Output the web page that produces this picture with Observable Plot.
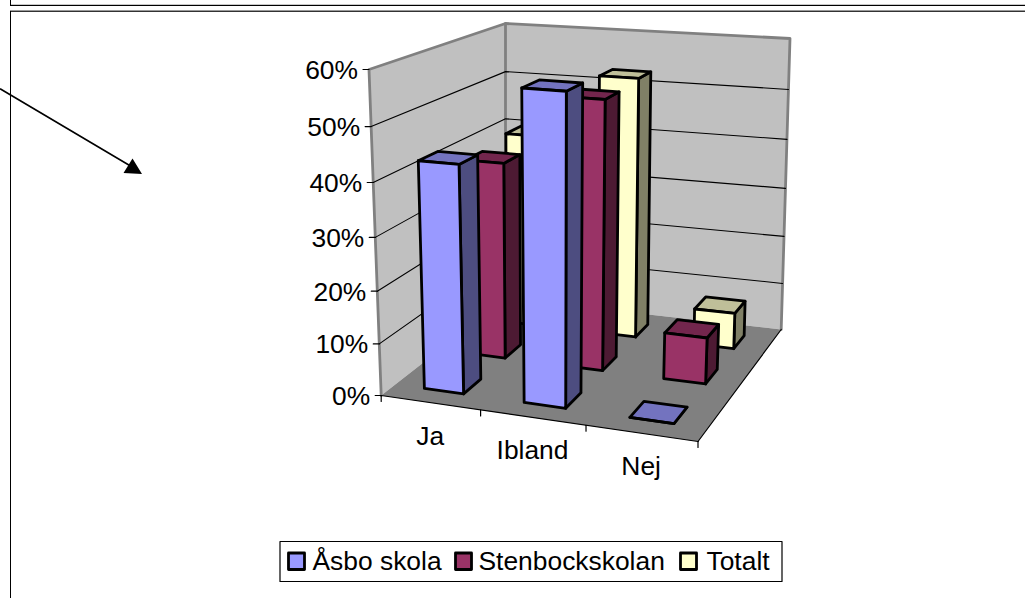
<!DOCTYPE html>
<html>
<head>
<meta charset="utf-8">
<script src="https://cdn.jsdelivr.net/npm/d3@7"></script>
<script src="https://cdn.jsdelivr.net/npm/@observablehq/plot@0.6"></script>
<style>html,body{margin:0;padding:0;background:#fff}svg{display:block}</style>
</head>
<body>
<div id="chart"></div>
<script>
const categories = ["Ja", "Ibland", "Nej"];
const seriesNames = ["Åsbo skola", "Stenbockskolan", "Totalt"];
const asbo = [0.431, 0.575, 0];
const stenbock = [0.389, 0.524, 0.091];
const totalt = [0.40, 0.529, 0.074];
const tickValues = [0, 0.1, 0.2, 0.3, 0.4, 0.5, 0.6];
const frontColors = ["#9999FF", "#993366", "#FFFFCC"];
const topColors = ["#7373BF", "#73264D", "#BFBF99"];
const sideColors = ["#4D4D80", "#4D1A33", "#808066"];
const values = [asbo, stenbock, totalt];

// The view of the 3-D box: where its corners land on the page.
const floorQuad = [[380.7,395],[697.5,441],[780.7,329],[505,298]];
const topQuad   = [[368.5,69],[712,94],[789.5,38],[505,23]];
const maxValue = 0.6, gap = 0.3, foreshorten = -0.06;

function homography(q) {
  const [[x0,y0],[x1,y1],[x2,y2],[x3,y3]] = q;
  const dx1=x1-x2, dx2=x3-x2, sx=x0-x1+x2-x3, dy1=y1-y2, dy2=y3-y2, sy=y0-y1+y2-y3;
  const d=dx1*dy2-dx2*dy1, g=(sx*dy2-dx2*sy)/d, h=(dx1*sy-sx*dy1)/d;
  const a=x1-x0+g*x1, b=x3-x0+h*x3, e=y1-y0+g*y1, f=y3-y0+h*y3;
  return (u,v)=>{const w=g*u+h*v+1;return [(a*u+b*v+x0)/w,(e*u+f*v+y0)/w];};
}
const floorH = homography(floorQuad), topH = homography(topQuad);
function project(u, v, value) {
  const p = floorH(u,v), q = topH(u,v), r = value/maxValue, t = r + foreshorten*r*(1-r);
  return [p[0]+(q[0]-p[0])*t, p[1]+(q[1]-p[1])*t];
}
const poly = (pts, opts) => Plot.line([...pts, pts[0], pts[1]], {x:d=>d[0], y:d=>d[1], curve:"linear", strokeLinejoin:"round", ...opts});
const seg = (pts, opts) => Plot.line(pts, {x:d=>d[0], y:d=>d[1], curve:"linear", ...opts});

const marks = [];
// frame
marks.push(Plot.ruleY([4],{x1:10,x2:1025,stroke:"#c8c8c8"}));
marks.push(Plot.ruleY([5],{x1:10,x2:1025,stroke:"#000"}));
marks.push(Plot.ruleY([10],{x1:10,x2:1025,stroke:"#999"}));
marks.push(Plot.ruleY([11],{x1:10,x2:1025,stroke:"#333"}));
marks.push(Plot.ruleX([10],{y1:0,y2:5,stroke:"#000"}));
marks.push(Plot.ruleX([10],{y1:11,y2:598,stroke:"#000"}));
// arrow
marks.push(seg([[0,88.5],[130,165.5]],{stroke:"#000",strokeWidth:1.6}));
marks.push(poly([[123,172.5],[132,158],[141.5,173.5]],{fill:"#000",stroke:"none"}));

// walls and floor
const wallStroke = {stroke:"#808080",strokeWidth:2.8};
marks.push(poly([project(0,0,0),project(0,0,maxValue),project(0,1,maxValue),project(0,1,0)],{fill:"#C0C0C0",stroke:"none"}));
marks.push(poly([project(0,1,0),project(0,1,maxValue),project(1,1,maxValue),project(1,1,0)],{fill:"#C0C0C0",stroke:"none"}));
marks.push(seg([project(0,0,0),project(0,0,maxValue),project(0,1,maxValue),project(1,1,maxValue),project(1,1,0)],{...wallStroke,strokeLinejoin:"round"}));
marks.push(seg([project(0,1,0),project(0,1,maxValue)],wallStroke));
marks.push(poly([project(0,0,0),project(1,0,0),project(1,1,0),project(0,1,0)],{fill:"#808080",stroke:"none"}));
// gridlines
for (const t of tickValues.slice(1,-1)) {
  marks.push(seg([project(0,0,t),project(0,1,t),project(1,1,t)],{stroke:"#000",strokeWidth:1.1}));
}
// axes
marks.push(seg([project(0,0,0),project(1,0,0)],{stroke:"#000",strokeWidth:1.2}));
marks.push(seg([project(1,0,0),project(1,1,0)],{stroke:"#000",strokeWidth:1.2}));
for (const t of tickValues) {
  const [x,y]=project(0,0,t);
  marks.push(seg([[x-6,y],[x,y]],{stroke:"#000",strokeWidth:1.2}));
}
for (let i=0;i<=categories.length;i++){
  const [x,y]=project(i/categories.length,0,0);
  marks.push(seg([[x,y],[x,y+6]],{stroke:"#000",strokeWidth:1.2}));
}
const font = {fontFamily:"'Liberation Sans',Arial,sans-serif",fontSize:26.4,fill:"#000"};
marks.push(Plot.text(tickValues,{
  x:t=>project(0,0,t)[0]-11, y:t=>project(0,0,t)[1]+1, text:t=>Math.round(t*100)+"%",
  textAnchor:"end", lineAnchor:"middle", ...font}));
marks.push(Plot.text(categories,{
  x:(c,i)=>project((i+.5)/3,0,0)[0], y:(c,i)=>project((i+.5)/3,0,0)[1]+33.5, text:c=>c,
  textAnchor:"middle", lineAnchor:"middle", ...font}));

// bars, back row first
const barStroke = {stroke:"#000",strokeWidth:2.8};
for (let s=seriesNames.length-1;s>=0;s--) {
  for (let c=0;c<categories.length;c++) {
    const val=values[s][c];
    const u0=(c+gap)/3,u1=(c+1-gap)/3,v0=(s+gap)/3,v1=(s+1-gap)/3;
    marks.push(poly([project(u1,v0,0),project(u1,v1,0),project(u1,v1,val),project(u1,v0,val)],{fill:sideColors[s],...barStroke}));
    marks.push(poly([project(u0,v0,val),project(u1,v0,val),project(u1,v1,val),project(u0,v1,val)],{fill:topColors[s],...barStroke}));
    marks.push(poly([project(u0,v0,0),project(u1,v0,0),project(u1,v0,val),project(u0,v0,val)],{fill:frontColors[s],...barStroke}));
  }
}

// legend
marks.push(poly([[279.5,541],[781.5,541],[781.5,581],[279.5,581]],{fill:"#fff",stroke:"#000",strokeWidth:1.2}));
const swatchX=[288,455,680], labelX=[312,478,706];
seriesNames.forEach((name,i)=>{
  marks.push(poly([[swatchX[i],552.5],[swatchX[i]+16,552.5],[swatchX[i]+16,569],[swatchX[i],569]],{fill:frontColors[i],...barStroke}));
});
marks.push(Plot.text(seriesNames,{x:(d,i)=>labelX[i],y:()=>561,text:d=>d,textAnchor:"start",lineAnchor:"middle",...font}));

const chart = Plot.plot({
  width:1025,height:598,margin:0,
  x:{domain:[0,1025],range:[0,1025],axis:null},
  y:{domain:[0,598],range:[0,598],axis:null},
  style:{background:"#fff"},
  marks
});
document.getElementById("chart").append(chart);
</script>
</body>
</html>
